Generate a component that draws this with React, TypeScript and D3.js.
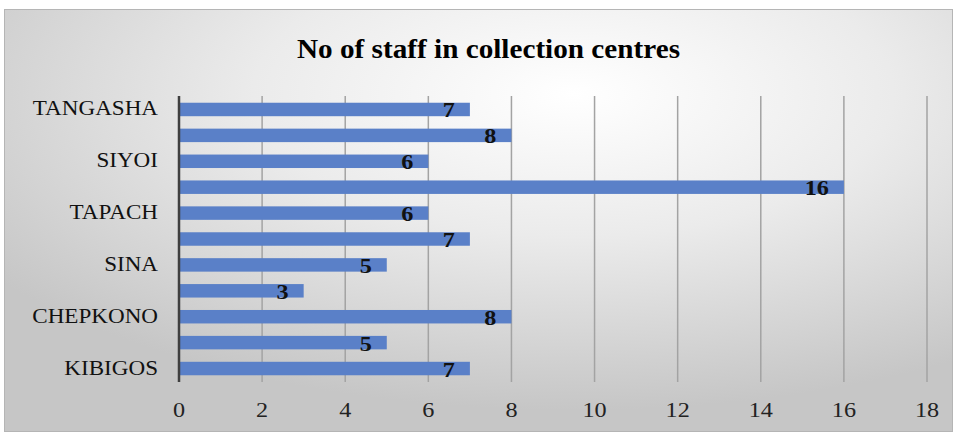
import React from "react";
import * as d3 from "d3";

const categories = ["TANGASHA", "CENTRE 2", "SIYOI", "CENTRE 4", "TAPACH", "CENTRE 6", "SINA", "CENTRE 8", "CHEPKONO", "CENTRE 10", "KIBIGOS"];
const shownLabels = ["TANGASHA", "SIYOI", "TAPACH", "SINA", "CHEPKONO", "KIBIGOS"];
const values = [7, 8, 6, 16, 6, 7, 5, 3, 8, 5, 7];
const xTicks = [0, 2, 4, 6, 8, 10, 12, 14, 16, 18];
const title = "No of staff in collection centres";

export default function App() {
  const W = 957, H = 436;
  const left = 179, right = 927, top = 96, bottom = 382;
  const x = d3.scaleLinear().domain([0, 18]).range([left, right]);
  const y = d3.scaleBand<string>().domain(categories).range([top, bottom]).paddingInner(0.48).paddingOuter(0.26);
  const font = "'Liberation Serif', 'Times New Roman', Times, serif";
  const sx = 1.1;
  return (
    <svg width={W} height={H} style={{ position: "absolute", left: 0, top: 0 }}>
      <defs>
        <radialGradient id="bg" cx="0.6" cy="0.2" r="0.75" fx="0.6" fy="0.2">
          <stop offset="0" stopColor="#ffffff" />
          <stop offset="0.45" stopColor="#ebebeb" />
          <stop offset="1" stopColor="#c6c6c6" />
        </radialGradient>
      </defs>
      <rect x={0} y={0} width={W} height={H} fill="#ffffff" />
      <rect x={4.5} y={9.5} width={W - 9} height={H - 14} fill="url(#bg)" stroke="#b5b5b5" strokeWidth={1} />
      <text x={297} y={58} textLength={383} lengthAdjust="spacingAndGlyphs" fontFamily={font} fontWeight="bold" fontSize={27} fill="#000">{title}</text>
      {xTicks.slice(1).map((t) => (
        <line key={"g" + t} x1={x(t)} x2={x(t)} y1={top} y2={bottom} stroke="#a3a3a3" strokeWidth={1.5} />
      ))}
      {categories.map((c, i) => (
        <rect key={"b" + c} x={x(0)} y={y(c)!} width={x(values[i]) - x(0)} height={y.bandwidth()} fill="#5a80c8" />
      ))}
      <line x1={left} x2={left} y1={top} y2={bottom} stroke="#3f3f3f" strokeWidth={2.5} />
      {categories.map((c, i) => (
        <g key={"v" + c} transform={`translate(${x(values[i]) - 15},${y(c)! + y.bandwidth() / 2 + 8}) scale(${sx},1)`}>
          <text textAnchor="end" fontFamily={font} fontWeight="bold" fontSize={22} fill="#111">{values[i]}</text>
        </g>
      ))}
      {categories.filter((c) => shownLabels.includes(c)).map((c) => (
        <g key={"l" + c} transform={`translate(158,${y(c)! + y.bandwidth() / 2 + 6}) scale(${sx},1)`}>
          <text textAnchor="end" fontFamily={font} fontSize={21} fill="#111">{c}</text>
        </g>
      ))}
      {xTicks.map((t) => (
        <g key={"t" + t} transform={`translate(${x(t)},417) scale(${sx},1)`}>
          <text textAnchor="middle" fontFamily={font} fontSize={22} fill="#222">{t}</text>
        </g>
      ))}
    </svg>
  );
}
